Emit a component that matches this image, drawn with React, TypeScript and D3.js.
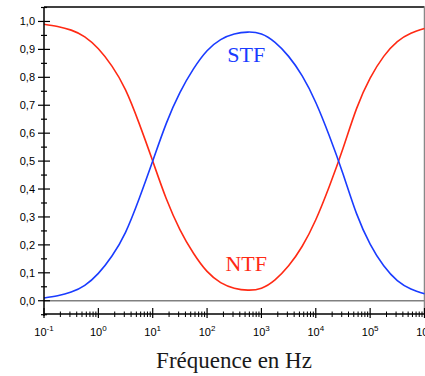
import React from "react";
import * as d3 from "d3";

// log10 of frequency (Hz) at which the curves were read
const logFreq = [
  -1, -0.75, -0.5, -0.25, 0, 0.25, 0.5, 0.75, 1, 1.25, 1.5, 1.75, 2, 2.25, 2.5, 2.75,
  3, 3.25, 3.5, 3.75, 4, 4.25, 4.5, 4.75, 5, 5.25, 5.5, 5.75, 6,
];
const stf = [
  0.010, 0.018, 0.031, 0.055, 0.098, 0.160, 0.245, 0.365, 0.500, 0.635, 0.745, 0.830,
  0.895, 0.935, 0.955, 0.962, 0.955, 0.925, 0.875, 0.805, 0.710, 0.590, 0.455, 0.312,
  0.203, 0.125, 0.072, 0.042, 0.025,
];
const ntf = [
  0.990, 0.982, 0.969, 0.945, 0.902, 0.840, 0.755, 0.635, 0.500, 0.365, 0.255, 0.170,
  0.105, 0.065, 0.045, 0.038, 0.045, 0.075, 0.125, 0.195, 0.290, 0.410, 0.545, 0.688,
  0.797, 0.875, 0.928, 0.958, 0.975,
];
const yMajorTicks = [0, 0.1, 0.2, 0.3, 0.4, 0.5, 0.6, 0.7, 0.8, 0.9, 1.0];
const xDecades = [-1, 0, 1, 2, 3, 4, 5, 6];
const curveLabels = [
  { text: "STF", logF: 2.72, v: 0.855 },
  { text: "NTF", logF: 2.72, v: 0.107 },
];
const xTitle = "Fréquence en Hz";

const W = 425;
const H = 376;
const BLUE = "#1a3cff";
const RED = "#ff2a14";

export default function App() {
  const x = d3.scaleLog().domain([0.1, 1e6]).range([44, 424.5]);
  const y = d3.scaleLinear().domain([-0.05, 1.05]).range([314.7, 7.5]);
  const axisY = 314;
  const axisX = 44;

  const pts = (vals: number[]) =>
    logFreq.map((lf, i) => [Math.pow(10, lf), vals[i]] as [number, number]);
  const line = d3
    .line<[number, number]>()
    .x((d) => x(d[0]))
    .y((d) => y(d[1]))
    .curve(d3.curveNatural);

  const yMinor = d3.range(-0.05, 1.06, 0.1).map((v) => Math.round(v * 100) / 100);

  const xMinor: number[] = [];
  xDecades.slice(0, -1).forEach((e) => {
    for (let m = 2; m <= 9; m++) xMinor.push(m * Math.pow(10, e));
  });

  const sans = "'Liberation Sans', Arial, sans-serif";
  const serif = "'Liberation Serif', 'Times New Roman', serif";

  return (
    <svg
      width={W}
      height={H}
      style={{ position: "absolute", left: 0, top: 0, background: "#fff" }}
    >
      {/* frame */}
      <line x1={axisX} x2={424.5} y1={7} y2={7} stroke="#000" strokeWidth={1.5} />
      <line x1={424.5} x2={424.5} y1={7} y2={axisY} stroke="#888" strokeWidth={1.5} />
      {/* zero line */}
      <line x1={axisX} x2={424.5} y1={y(0)} y2={y(0)} stroke="#808080" strokeWidth={1.5} />

      {/* curves */}
      <path d={line(pts(ntf)) || ""} fill="none" stroke={RED} strokeWidth={1.6} />
      <path d={line(pts(stf)) || ""} fill="none" stroke={BLUE} strokeWidth={1.6} />

      {/* y axis */}
      <line x1={axisX} x2={axisX} y1={7} y2={axisY + 2} stroke="#000" strokeWidth={1.5} />
      {yMajorTicks.map((v) => (
        <g key={"ym" + v}>
          <line x1={axisX - 6} x2={axisX + 6} y1={y(v)} y2={y(v)} stroke="#000" strokeWidth={1.2} />
          <text
            x={axisX - 9}
            y={y(v)}
            dy="0.35em"
            textAnchor="end"
            fontFamily={sans}
            fontSize={11}
            fill="#000"
          >
            {v.toFixed(1).replace(".", ",")}
          </text>
        </g>
      ))}
      {yMinor.map((v) => (
        <line
          key={"yn" + v}
          x1={axisX - 3}
          x2={axisX + 3}
          y1={y(v)}
          y2={y(v)}
          stroke="#000"
          strokeWidth={1.2}
        />
      ))}

      {/* x axis */}
      <line x1={axisX} x2={424.5} y1={axisY} y2={axisY} stroke="#000" strokeWidth={1.5} />
      {xMinor.map((f) => (
        <line
          key={"xn" + f}
          x1={x(f)}
          x2={x(f)}
          y1={axisY - 2.5}
          y2={axisY + 3}
          stroke="#000"
          strokeWidth={1}
        />
      ))}
      {xDecades.map((e) => {
        const f = Math.pow(10, e);
        return (
          <g key={"xm" + e}>
            <line x1={x(f)} x2={x(f)} y1={axisY - 6} y2={axisY + 4} stroke="#000" strokeWidth={1.2} />
            <text
              x={x(f)}
              y={axisY + 22}
              textAnchor="middle"
              fontFamily={sans}
              fontSize={11}
              fill="#000"
            >
              10
              <tspan dy={-5} fontSize={8}>
                {e}
              </tspan>
            </text>
          </g>
        );
      })}

      {/* curve labels */}
      {curveLabels.map((c, i) => (
        <text
          key={c.text}
          x={x(Math.pow(10, c.logF))}
          y={y(c.v)}
          textAnchor="middle"
          fontFamily={serif}
          fontSize={22}
          fill={i === 0 ? BLUE : RED}
        >
          {c.text}
        </text>
      ))}

      {/* x title */}
      <text
        x={234}
        y={368}
        textAnchor="middle"
        fontFamily={serif}
        fontSize={23}
        fill="#1a1a1a"
      >
        {xTitle}
      </text>
    </svg>
  );
}
